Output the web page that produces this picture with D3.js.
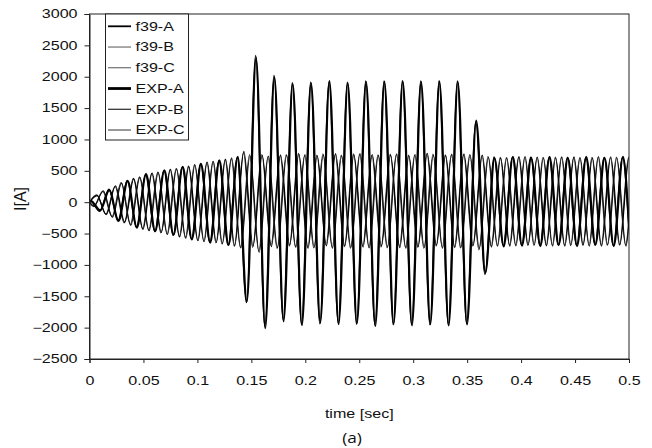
<!DOCTYPE html>
<html>
<head>
<meta charset="utf-8">
<script src="https://cdn.jsdelivr.net/npm/d3@7"></script>
<style>
  body { margin: 0; background: #fff; }
  text { font-family: "Liberation Sans", Arial, sans-serif; fill: #111; }
</style>
</head>
<body>
<svg id="chart" width="652" height="448"></svg>
<script>
// Sampling clock of the phase-current extrema (ms). Phase A peaks first at
// firstPeakMs; B and C extrema follow a third and a sixth of a period later.
// The recorded traces lag the simulated ones by expLagMs.
const periodMs = 17;
const firstPeakMs = 1;
const phaseOffsetMs = { A: 0, B: 34 / 6, C: 17 / 6 };
const expLagMs = 0.4;
const endSec = 0.5;

// Successive half-cycle extrema of each phase current [A]
const f39A = [15,-145,205,-285,345,-392,435,-470,500,-528,557,-587,615,-637,660,-688,712,
  -1600,2340,-1980,2020,-1870,1905,-1945,1910,-1940,1915,-1925,1910,-1945,1930,-1950,1930,-1955,
  1935,-1950,1930,-1955,1935,-1950,1930,-1930,1280,-1150,
  720,-690,715,-685,720,-690,710,-688,718,-692,712,-686,716,-690,714];
const f39B = [115,-190,250,-330,378,-420,458,-490,518,-547,575,-607,630,-650,678,-702,
  790,-720,760,-690,740,-700,780,-720,750,-680,760,-710,770,-700,745,-715,765,-705,750,-720,
  770,-700,755,-715,760,-700,740,-700,
  715,-688,718,-690,712,-686,720,-692,714,-688,716,-690,712,-686,718];
const f39C = [-70,170,-228,312,-355,405,-445,480,-508,537,-565,598,-622,645,-668,695,-720,
  760,-780,720,-740,760,-710,745,-730,770,-720,750,-735,765,-715,755,-730,760,-720,750,-735,
  765,-720,755,-730,760,-760,730,
  -695,712,-688,720,-690,714,-686,718,-692,712,-688,716,-690,720,-686];
const expA = [20,-130,190,-300,335,-405,448,-462,510,-520,565,-595,608,-645,668,-680,725,
  -1580,2300,-2010,1990,-1900,1880,-1960,1895,-1920,1930,-1945,1895,-1930,1915,-1975,1920,-1940,
  1925,-1965,1915,-1945,1920,-1965,1915,-1950,1300,-1120,
  700,-705,725,-695,708,-700,722,-680,705,-700,725,-678,705,-700,722];
const expB = [105,-200,262,-318,370,-432,465,-480,525,-555,568,-615,640,-642,685,-695,
  810,-700,745,-710,755,-685,765,-735,740,-695,775,-700,755,-715,760,-700,750,-725,740,-710,
  780,-690,745,-725,770,-690,750,-715,
  705,-700,725,-680,720,-695,708,-700,722,-680,705,-700,724,-678,706];
const expC = [-60,180,-240,300,-368,395,-455,472,-515,530,-575,590,-630,652,-660,705,-730,
  740,-800,735,-725,750,-720,760,-715,755,-735,740,-720,775,-730,745,-715,770,-735,760,-720,
  750,-735,765,-720,750,-740,715,
  -700,705,-695,725,-680,708,-700,722,-682,706,-700,725,-678,708,-700];

// Current of each trace at the end of the record (t = 0.5 s)
const endValues = { f39A: -430, f39B: 715, f39C: -265, expA: -400, expB: 708, expC: -300 };

const seriesNames = ["f39-A", "f39-B", "f39-C", "EXP-A", "EXP-B", "EXP-C"];
const xTicks = [0, 0.05, 0.1, 0.15, 0.2, 0.25, 0.3, 0.35, 0.4, 0.45, 0.5];
const xTickLabels = ["0", "0.05", "0.1", "0.15", "0.2", "0.25", "0.3", "0.35", "0.4", "0.45", "0.5"];
const yTicks = [-2500, -2000, -1500, -1000, -500, 0, 500, 1000, 1500, 2000, 2500, 3000];

// ---- layout ----
const svg = d3.select("#chart");
const plot = { left: 89.5, right: 629, top: 14, bottom: 359 };
const textStretch = 1.34;

const x = d3.scaleLinear().domain([0, endSec]).range([plot.left, plot.right]);
const y = d3.scaleLinear().domain([-2500, 3000]).range([plot.bottom, plot.top]);

function trace(values, phase, endValue, lagMs) {
  const pts = [{ t: 0, v: 0 }];
  values.forEach((v, j) => {
    pts.push({ t: (firstPeakMs + lagMs + phaseOffsetMs[phase] + j * periodMs / 2) / 1000, v });
  });
  pts.push({ t: endSec, v: endValue });
  return pts;
}

const traces = [
  { name: "f39-B", pts: trace(f39B, "B", endValues.f39B, 0), color: "#2a2a2a", width: 1.2 },
  { name: "f39-C", pts: trace(f39C, "C", endValues.f39C, 0), color: "#333", width: 1.2 },
  { name: "EXP-B", pts: trace(expB, "B", endValues.expB, expLagMs), color: "#000", width: 1.2 },
  { name: "EXP-C", pts: trace(expC, "C", endValues.expC, expLagMs), color: "#111", width: 1.2 },
  { name: "f39-A", pts: trace(f39A, "A", endValues.f39A, 0), color: "#000", width: 1.5 },
  { name: "EXP-A", pts: trace(expA, "A", endValues.expA, expLagMs), color: "#000", width: 2.1 }
];

svg.append("clipPath").attr("id", "plot-clip")
  .append("rect")
  .attr("x", plot.left).attr("y", plot.top)
  .attr("width", plot.right - plot.left).attr("height", plot.bottom - plot.top);

const line = d3.line()
  .x(d => x(d.t))
  .y(d => y(d.v))
  .curve(d3.curveMonotoneX);

svg.append("g").attr("clip-path", "url(#plot-clip)")
  .selectAll("path")
  .data(traces)
  .join("path")
  .attr("fill", "none")
  .attr("stroke", d => d.color)
  .attr("stroke-width", d => d.width)
  .attr("stroke-linejoin", "round")
  .attr("d", d => line(d.pts));

// ---- frame and axes ----
svg.append("rect")
  .attr("x", plot.left).attr("y", plot.top)
  .attr("width", plot.right - plot.left).attr("height", plot.bottom - plot.top)
  .attr("fill", "none").attr("stroke", "#222").attr("stroke-width", 1);

const yAxis = svg.append("g")
  .attr("transform", `translate(${plot.left},0)`)
  .call(d3.axisLeft(y).tickValues(yTicks).tickSize(5).tickPadding(7).tickFormat(d3.format("d")));
yAxis.select(".domain").attr("stroke", "#222");
yAxis.selectAll(".tick line").attr("stroke", "#222");
yAxis.selectAll(".tick text")
  .attr("font-size", 12)
  .attr("x", -12 / textStretch)
  .attr("transform", `scale(${textStretch},1)`);

const xAxis = svg.append("g")
  .attr("transform", `translate(0,${plot.bottom})`)
  .call(d3.axisBottom(x).tickValues(xTicks).tickSize(4).tickPadding(13.5)
    .tickFormat((d, i) => xTickLabels[i]));
xAxis.select(".domain").attr("stroke", "#222");
xAxis.selectAll(".tick line").attr("stroke", "#222");
xAxis.selectAll(".tick text")
  .attr("font-size", 12)
  .attr("transform", `scale(${textStretch},1)`);

svg.selectAll(".tick text").style("fill", "#111");

// ---- axis titles ----
svg.append("text")
  .attr("transform", `translate(${(plot.left + plot.right) / 2},418) scale(${textStretch},1)`)
  .attr("text-anchor", "middle")
  .attr("font-size", 12)
  .text("time [sec]");

svg.append("text")
  .attr("transform", "translate(25.5,199) rotate(-90)")
  .attr("text-anchor", "middle")
  .attr("font-size", 16)
  .text("I[A]");

svg.append("text")
  .attr("transform", `translate(352,443) scale(1.15,1)`)
  .attr("text-anchor", "middle")
  .attr("font-size", 15)
  .style("font-family", "'Open Sans', 'Noto Sans', sans-serif")
  .text("(a)");

// ---- legend ----
const legendStyle = {
  "f39-A": { color: "#000", width: 1.8 },
  "f39-B": { color: "#555", width: 1 },
  "f39-C": { color: "#555", width: 1 },
  "EXP-A": { color: "#000", width: 2.8 },
  "EXP-B": { color: "#111", width: 1.1 },
  "EXP-C": { color: "#333", width: 1 }
};
const legend = svg.append("g");
legend.append("rect")
  .attr("x", 105.5).attr("y", 14)
  .attr("width", 83).attr("height", 126)
  .attr("fill", "#fff").attr("stroke", "#222").attr("stroke-width", 1);

const rowY = d3.scaleLinear().domain([0, 5]).range([26.3, 130]);
const rows = legend.selectAll("g.row")
  .data(seriesNames)
  .join("g")
  .attr("class", "row")
  .attr("transform", (d, i) => `translate(0,${rowY(i)})`);
rows.append("line")
  .attr("x1", 108).attr("x2", 131)
  .attr("stroke", d => legendStyle[d].color)
  .attr("stroke-width", d => legendStyle[d].width);
rows.append("text")
  .attr("transform", `translate(135.5,4.3) scale(${textStretch},1)`)
  .attr("font-size", 12)
  .text(d => d);
</script>
</body>
</html>
